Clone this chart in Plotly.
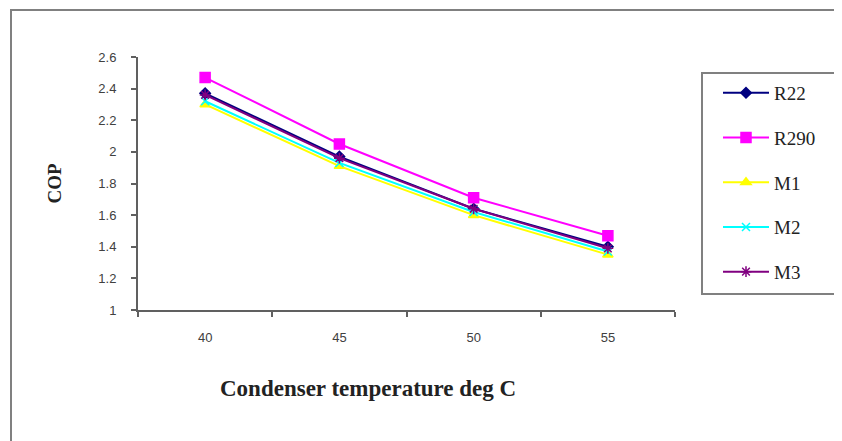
import plotly.graph_objects as go

categories = ["40", "45", "50", "55"]
r22 = [2.37, 1.97, 1.64, 1.40]
r290 = [2.47, 2.05, 1.71, 1.47]
m1 = [2.30, 1.91, 1.60, 1.35]
m2 = [2.32, 1.93, 1.62, 1.37]
m3 = [2.36, 1.96, 1.64, 1.39]
y_ticks = [1, 1.2, 1.4, 1.6, 1.8, 2, 2.2, 2.4, 2.6]

series = [
    ("R22", r22, "#000080", "diamond", 8),
    ("R290", r290, "#FF00FF", "square", 10),
    ("M1", m1, "#FFFF00", "triangle-up", 9),
    ("M2", m2, "#00FFFF", "x-thin-open", 8),
    ("M3", m3, "#800080", "asterisk-open", 9),
]

fig = go.Figure()
for name, vals, color, sym, size in series:
    fig.add_trace(go.Scatter(
        x=categories, y=vals, name=name, mode="lines+markers",
        line=dict(color=color, width=2),
        marker=dict(symbol=sym, size=size, color=color,
                    line=dict(color=color, width=1.5)),
        legendgroup=name,
    ))

# page has an 8px body margin; figure placed at (8, 8)
OFF = 8
W, H = 834, 433
L, T = 138 - OFF, 57 - OFF
R = W - (675 - OFF)
B = H - (310 - OFF)
pw, ph = W - L - R, H - T - B

def px_x(page_x):
    return (page_x - OFF - L) / pw

def px_y(page_y):
    return (H - B - (page_y - OFF)) / ph

axis_font = dict(family="Liberation Sans, Arial", size=13, color="#404040")
serif = "Liberation Serif, Times New Roman"
fig.update_layout(
    width=W, height=H,
    margin=dict(l=L, r=R, t=T, b=B, autoexpand=False),
    paper_bgcolor="white", plot_bgcolor="white",
    showlegend=True,
    legend=dict(
        x=px_x(718), y=px_y(74), xanchor="left", yanchor="top",
        xref="paper", yref="paper",
        borderwidth=0, bgcolor="rgba(0,0,0,0)",
        font=dict(family=serif, size=19, color="#222222"),
        tracegroupgap=17, itemwidth=46,
    ),
    xaxis=dict(
        type="category", range=[-0.5, 3.5], tickson="boundaries",
        showline=True, linecolor="#606060", linewidth=2,
        ticks="outside", ticklen=5, tickcolor="#606060", tickwidth=1.5,
        ticklabelstandoff=14,
        showgrid=False, zeroline=False, tickfont=axis_font,
    ),
    yaxis=dict(
        range=[1, 2.6], tickvals=y_ticks, ticktext=[f"{v:g}" for v in y_ticks],
        showline=True, linecolor="#606060", linewidth=2,
        ticks="outside", ticklen=5, tickcolor="#606060", tickwidth=1.5,
        ticklabelstandoff=12,
        showgrid=False, zeroline=False, tickfont=axis_font,
        title=dict(text="<b>COP</b>", standoff=32,
                   font=dict(family=serif, size=19, color="#222222")),
    ),
    annotations=[dict(
        text="<b>Condenser temperature deg C</b>", xref="paper", yref="paper",
        x=px_x(368), y=px_y(388), xanchor="center", yanchor="middle",
        showarrow=False,
        font=dict(family=serif, size=23, color="#222222"),
    )],
    shapes=[
        dict(type="rect", xref="paper", yref="paper",
             x0=px_x(11), x1=px_x(860), y0=px_y(460), y1=px_y(10),
             line=dict(color="#808080", width=2), layer="below"),
        dict(type="rect", xref="paper", yref="paper",
             x0=px_x(702), x1=px_x(845), y0=px_y(294), y1=px_y(73),
             line=dict(color="#808080", width=2), layer="below"),
    ],
)

fig.write_html("out.html")
